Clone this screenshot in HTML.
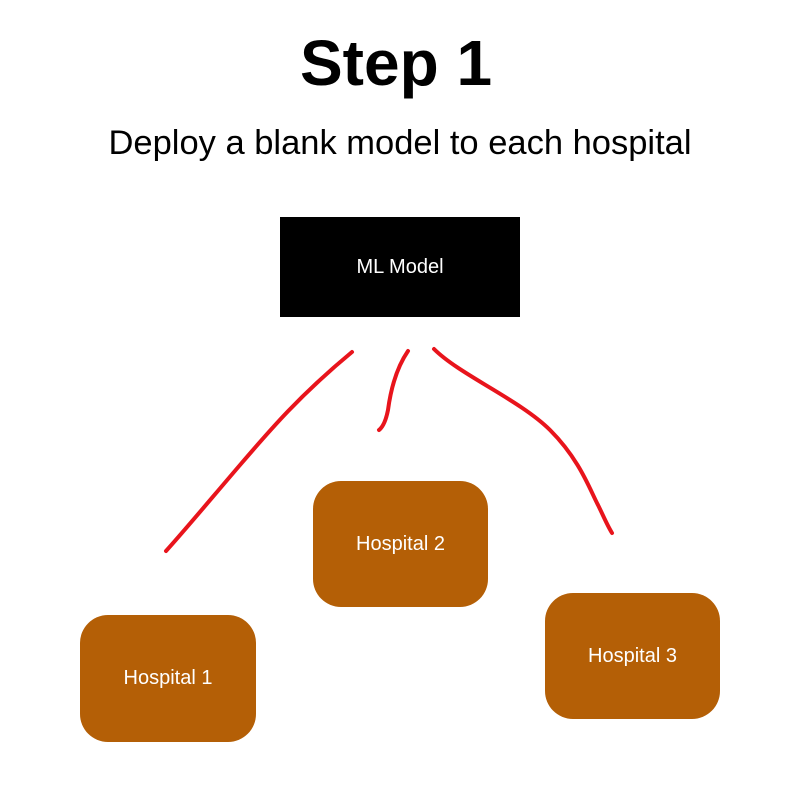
<!DOCTYPE html>
<html><head><style>
body{margin:0;width:800px;height:800px;background:#fff;position:relative;font-family:"Liberation Sans",sans-serif;overflow:hidden}
.t{position:absolute;left:0;width:800px;text-align:center;color:#000}
.box{position:absolute;display:flex;align-items:center;justify-content:center;color:#fff;font-size:20px}
.h{background:#b45f06;border-radius:28px}
</style></head><body>
<div class="t" style="top:25px;left:-4px;font-size:64px;font-weight:bold;line-height:76px">Step 1</div>
<div class="t" style="top:123px;font-size:34.5px;line-height:40px">Deploy a blank model to each hospital</div>
<div class="box" style="left:280px;top:217px;width:240px;height:100px;background:#000">ML Model</div>
<div class="box h" style="left:313px;top:481px;width:175px;height:126px">Hospital 2</div>
<div class="box h" style="left:80px;top:615px;width:176px;height:127px">Hospital 1</div>
<div class="box h" style="left:545px;top:593px;width:175px;height:126px">Hospital 3</div>
<svg width="800" height="800" style="position:absolute;left:0;top:0" fill="none" stroke="#e8141c" stroke-width="4" stroke-linecap="round">
<path d="M352 352 C300 395 270 430 240 465 C210 500 185 530 166 551"/>
<path d="M408 351 C395 370 390 395 388 410 C386 420 383 427 379 430"/>
<path d="M434 349 C460 375 520 400 550 430 C580 460 590 490 598 505 C603 515 607 525 612 533"/>
</svg>
</body></html>
